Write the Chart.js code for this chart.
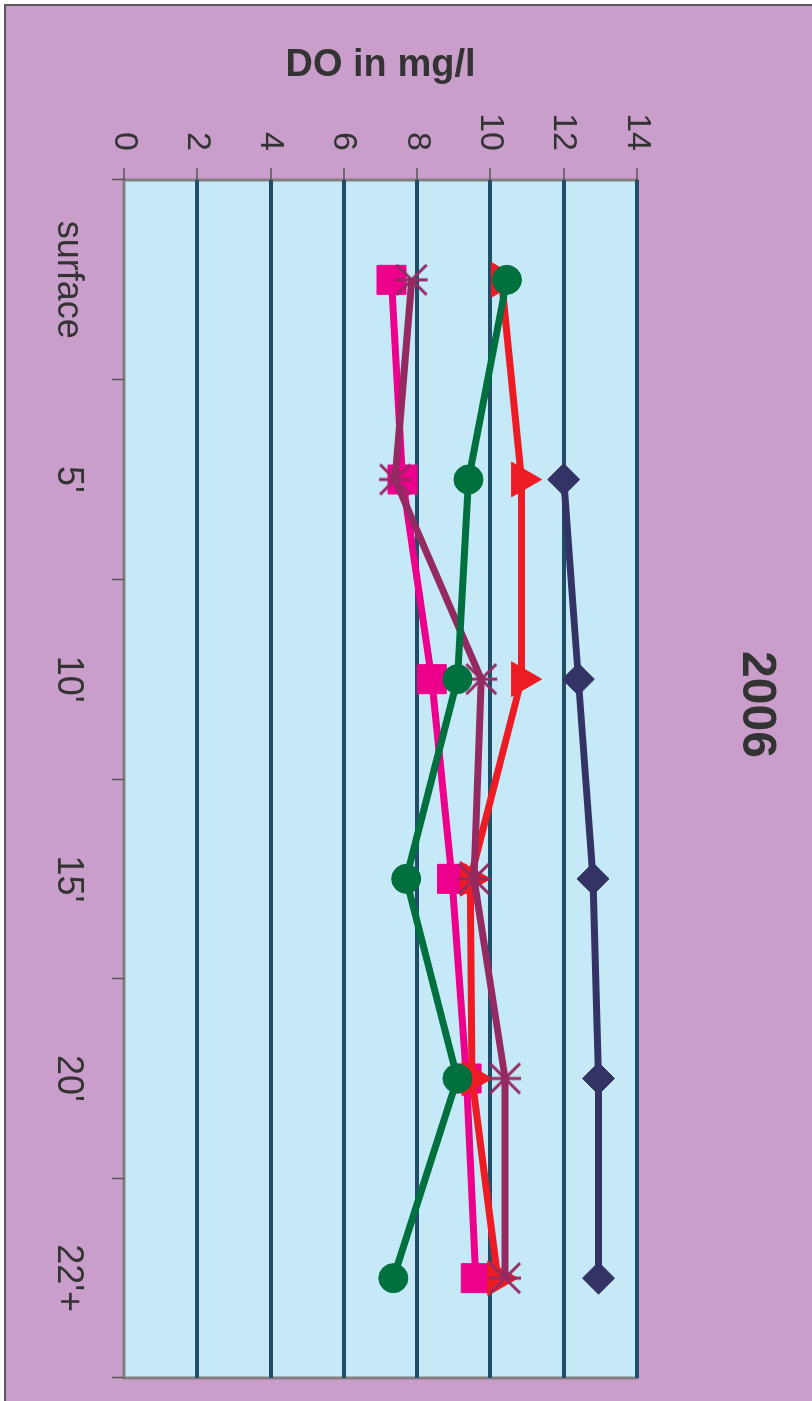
<!DOCTYPE html>
<html>
<head>
<meta charset="utf-8">
<script src="https://cdn.jsdelivr.net/npm/chart.js@4"></script>
<style>
  html, body { margin: 0; padding: 0; background: #ffffff; overflow: hidden; width: 812px; height: 1401px; }
  /* the chart is laid out landscape and turned a quarter turn clockwise */
  #wrap { position: absolute; left: 0; top: 0; width: 1401px; height: 812px;
          transform-origin: 0 0; transform: translate(812px, 0) rotate(90deg); }
  canvas { display: block; }
</style>
</head>
<body>
<div id="wrap"><canvas id="c" width="1401" height="812"></canvas></div>
<script>
// depth categories and dissolved-oxygen readings (mg/l)
const depths = ['surface', "5'", "10'", "15'", "20'", "22'+"];
const yTicks = [0, 2, 4, 6, 8, 10, 12, 14];
const seriesNavy    = [null, 12.0, 12.4, 12.8, 12.95, 12.95];
const seriesRed     = [10.3, 10.85, 10.85, 9.45, 9.5, 10.2];
const seriesGreen   = [10.45, 9.4, 9.1, 7.7, 9.1, 7.35];
const seriesMagenta = [7.3, 7.6, 8.4, 8.95, 9.35, 9.6];
const seriesMaroon  = [7.85, 7.4, 9.75, 9.55, 10.4, 10.4];

const FONT = "'Liberation Sans', Arial, sans-serif";
const TEXT = '#333333';

// asterisk marker: an X crossed by a vertical bar
function makeStar(color) {
  const c = document.createElement('canvas');
  c.width = 36; c.height = 36;
  const g = c.getContext('2d');
  g.strokeStyle = color; g.lineWidth = 3; g.lineCap = 'butt';
  g.beginPath();
  g.moveTo(3, 3); g.lineTo(33, 33);
  g.moveTo(33, 3); g.lineTo(3, 33);
  g.moveTo(18, 2); g.lineTo(18, 34);
  g.stroke();
  return c;
}

const framePlugin = {
  id: 'frame',
  beforeDraw(chart) {
    const { ctx, chartArea: a, width, height } = chart;
    ctx.save();
    ctx.fillStyle = '#ffffff';
    ctx.fillRect(0, 0, width, height);
    ctx.fillStyle = '#CA9ECA';
    ctx.fillRect(4, 0, width - 4, height - 4);
    ctx.strokeStyle = '#5a5a5a';
    ctx.lineWidth = 2;
    ctx.beginPath();
    ctx.moveTo(5, 0); ctx.lineTo(5, height - 5); ctx.lineTo(width, height - 5);
    ctx.stroke();
    ctx.fillStyle = '#C6E9F8';
    ctx.fillRect(a.left, a.top, a.right - a.left, a.bottom - a.top);
    ctx.strokeStyle = '#857E80';
    ctx.lineWidth = 3;
    ctx.strokeRect(a.left, a.top, a.right - a.left, a.bottom - a.top);
    ctx.restore();
  }
};

function series(data, color, style, radius) {
  return {
    data, borderColor: color, backgroundColor: color,
    borderWidth: 7, tension: 0, yAxisID: 'y',
    pointStyle: style, pointRadius: radius,
    pointBackgroundColor: color, pointBorderColor: color, pointBorderWidth: 1,
    pointHoverRadius: radius
  };
}

new Chart(document.getElementById('c'), {
  type: 'line',
  data: {
    labels: depths,
    datasets: [
      series(seriesGreen, '#00703F', 'circle', 14.5),
      series(seriesMaroon, '#952A62', makeStar('#952A62'), 16),
      series(seriesRed, '#ED1C24', 'triangle', 20),
      series(seriesMagenta, '#EC008C', 'rect', 20.5),
      series(seriesNavy, '#333366', 'rectRot', 16)
    ]
  },
  options: {
    responsive: false,
    devicePixelRatio: 1,
    animation: false,
    layout: { padding: { left: 8, right: 0, top: 0, bottom: 0 } },
    plugins: {
      legend: { display: false },
      tooltip: { enabled: false },
      title: {
        display: true, text: '2006', color: TEXT,
        font: { family: FONT, size: 48, weight: 'bold' },
        padding: { top: 26.7, bottom: 90.7 }
      }
    },
    scales: {
      x: {
        type: 'category',
        offset: true,
        grid: { offset: true, drawOnChartArea: false, drawTicks: true, tickLength: 12,
                tickColor: '#555555', tickWidth: 1.5 },
        border: { display: false },
        ticks: { padding: 22, color: TEXT, font: { family: FONT, size: 36 },
                 maxRotation: 0, autoSkip: false },
        afterFit(s) { s.height = 124; }
      },
      y: {
        position: 'left',
        min: 0, max: 14,
        afterBuildTicks(s) { s.ticks = yTicks.map(v => ({ value: v })); },
        grid: {
          color: c => (c.tick && c.tick.value === 0) ? 'rgba(0,0,0,0)' : '#1F4E66',
          lineWidth: 4, tickLength: 12, tickColor: '#555555', tickWidth: 1.5
        },
        border: { display: false },
        ticks: { padding: 17, color: TEXT, font: { family: FONT, size: 34 } },
        title: {
          display: true, text: 'DO in mg/l', color: TEXT,
          font: { family: FONT, size: 38, weight: 'bold' },
          padding: { top: 35, bottom: 0 }
        },
        afterFit(s) { s.width = 172; }
      },
      // empty margin strip on the far side of the plot
      gap: {
        position: 'right',
        min: 0, max: 14,
        grid: { display: false, drawTicks: false },
        border: { display: false },
        ticks: { display: false },
        afterFit(s) { s.width = 23; }
      }
    }
  },
  plugins: [framePlugin]
});
</script>
</body>
</html>
